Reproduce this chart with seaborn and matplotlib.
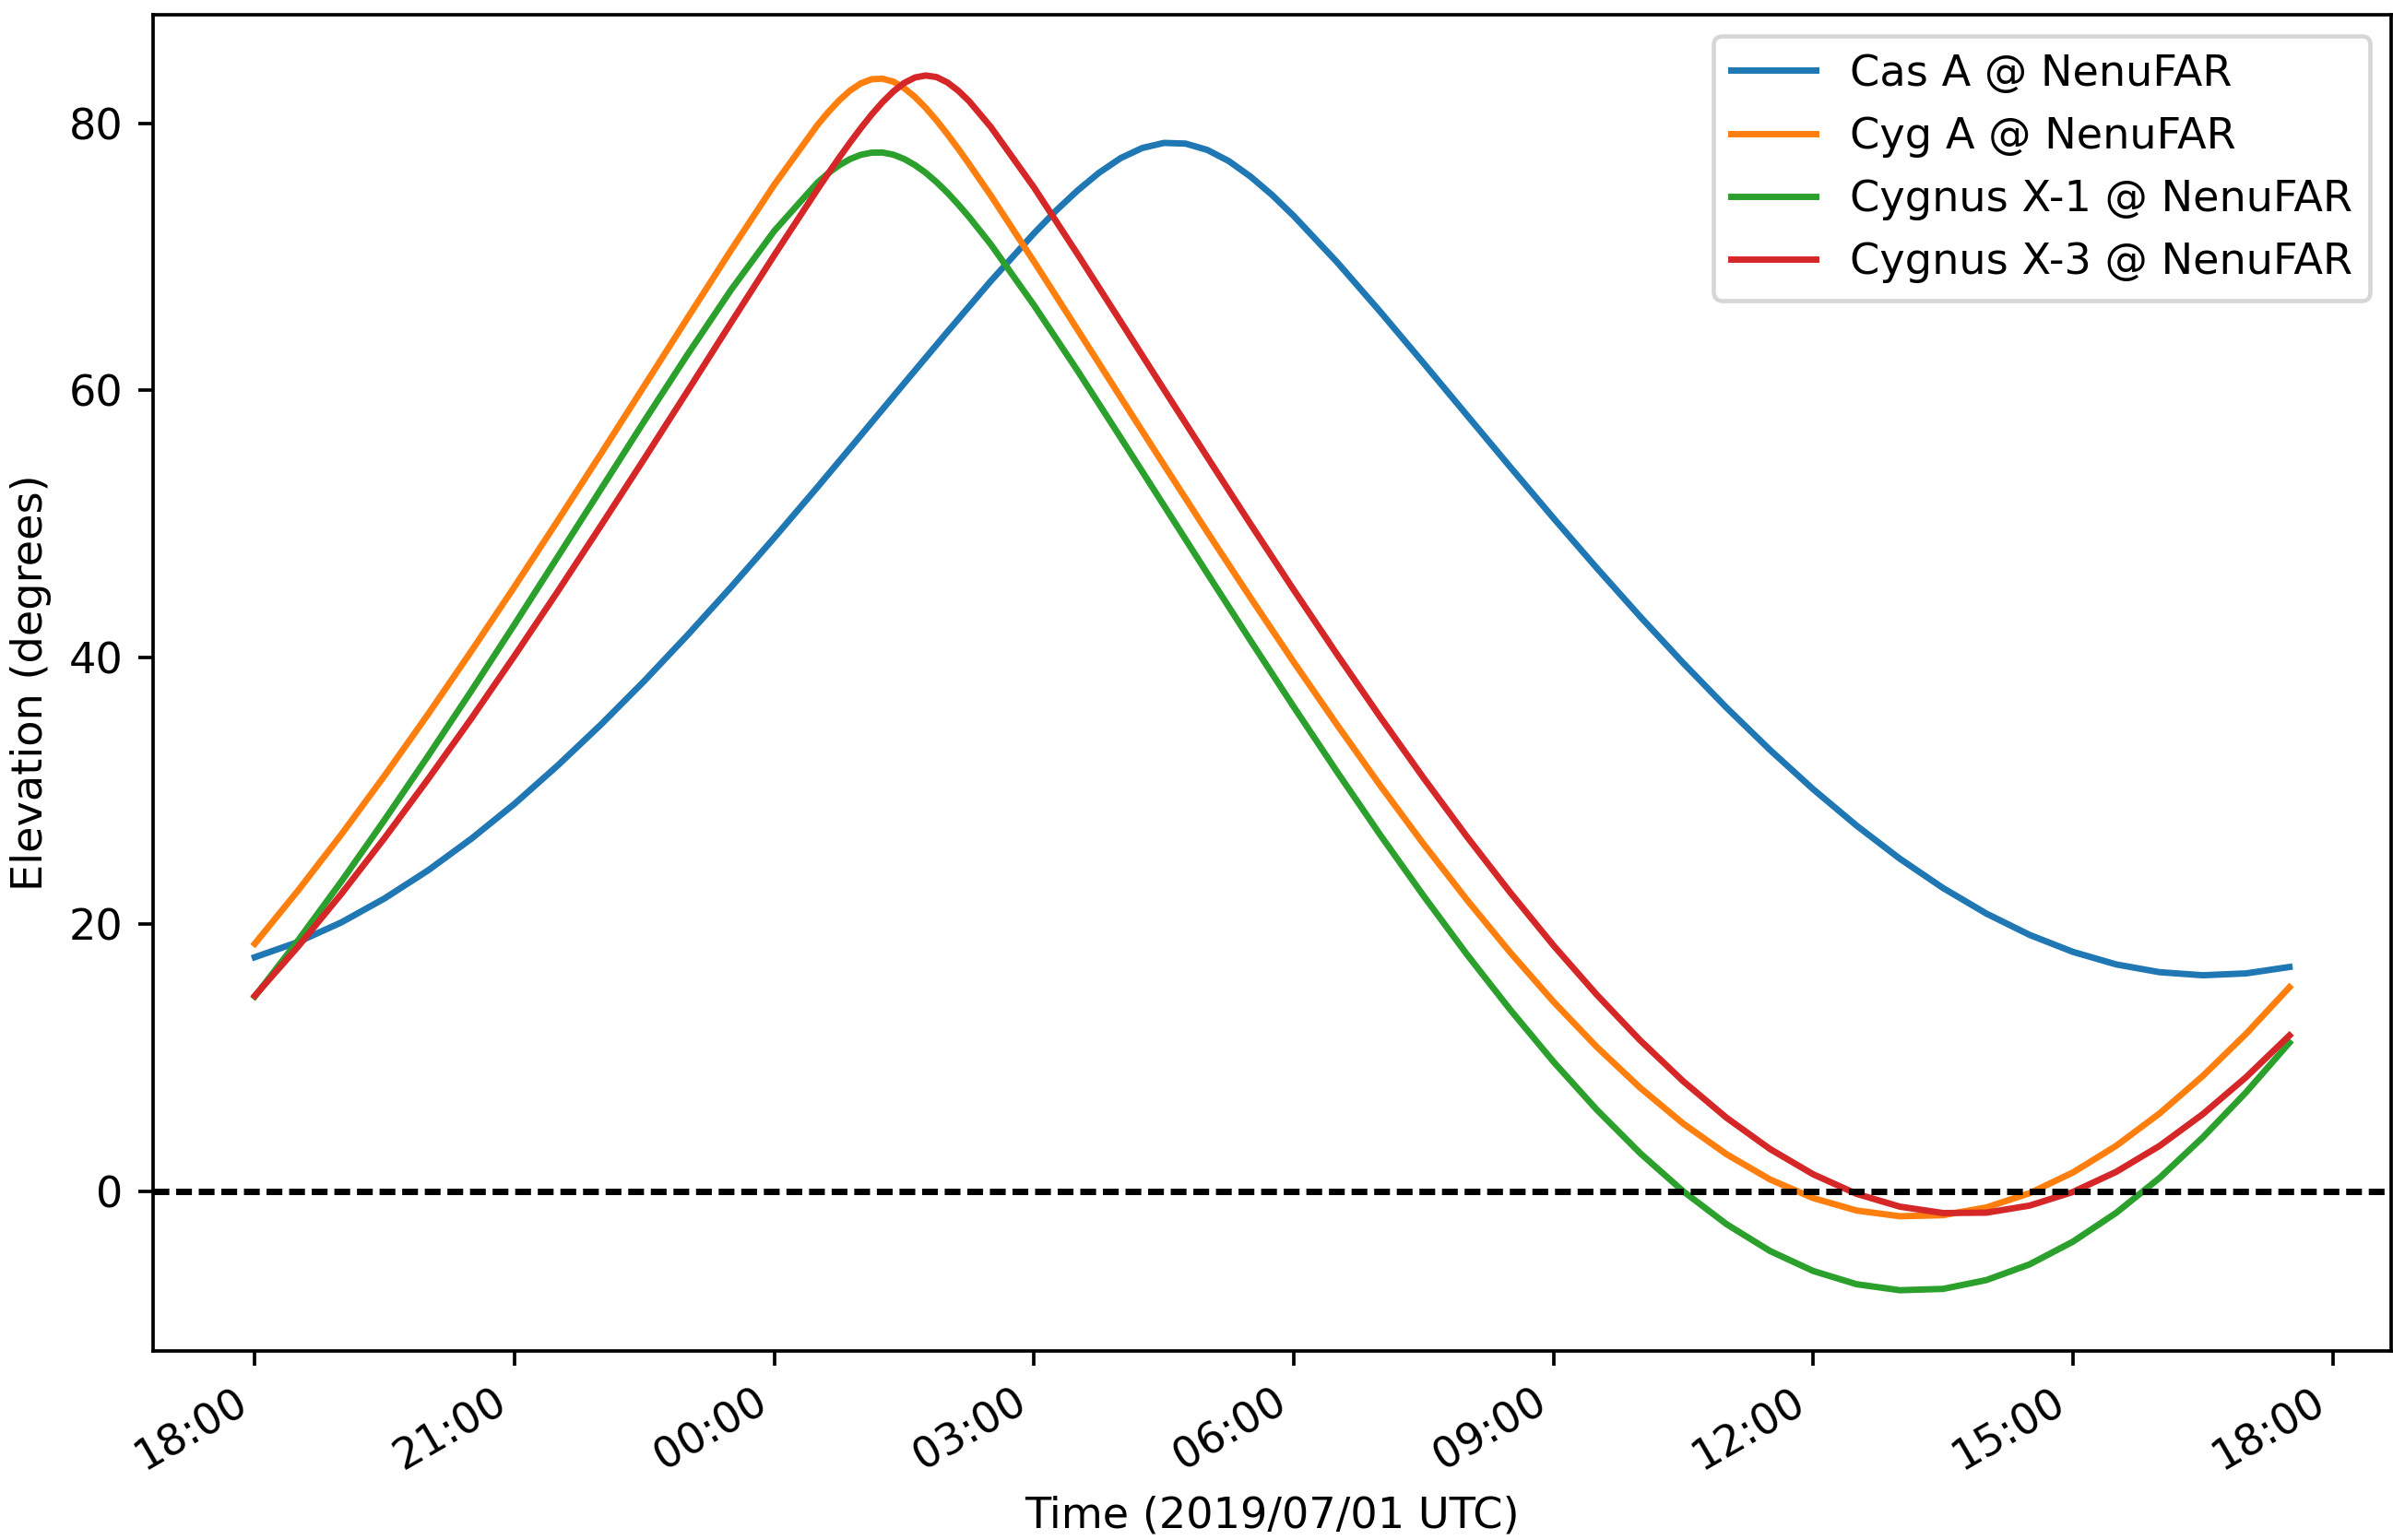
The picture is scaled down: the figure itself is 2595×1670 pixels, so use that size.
import matplotlib
matplotlib.use("Agg")
import matplotlib.pyplot as plt
import matplotlib.dates as mdates
import pandas as pd
import seaborn as sns

# Hours since 2019-06-30 18:00 UTC (denser sampling around the culminations)
hours_cas = [0.0, 0.5, 1.0, 1.5, 2.0, 2.5, 3.0, 3.5, 4.0, 4.5, 5.0, 5.5, 6.0,
             6.5, 7.0, 7.5, 8.0, 8.5, 9.0,
             9.25, 9.5, 9.75, 10.0, 10.25, 10.5, 10.75, 11.0, 11.25, 11.5,
             11.75, 12.0,
             12.5, 13.0, 13.5, 14.0, 14.5, 15.0, 15.5, 16.0, 16.5, 17.0, 17.5,
             18.0, 18.5, 19.0, 19.5, 20.0, 20.5, 21.0, 21.5, 22.0, 22.5, 23.0,
             23.5]

hours_cyg = [0.0, 0.5, 1.0, 1.5, 2.0, 2.5, 3.0, 3.5, 4.0, 4.5, 5.0, 5.5, 6.0,
             6.5, 6.625, 6.75, 6.875, 7.0, 7.125, 7.25, 7.375, 7.5, 7.625,
             7.75, 7.875, 8.0, 8.125, 8.25,
             8.5, 9.0, 9.5, 10.0, 10.5, 11.0, 11.5, 12.0, 12.5, 13.0, 13.5,
             14.0, 14.5, 15.0, 15.5, 16.0, 16.5, 17.0, 17.5, 18.0, 18.5, 19.0,
             19.5, 20.0, 20.5, 21.0, 21.5, 22.0, 22.5, 23.0, 23.5]

cas_a = [17.54, 18.68, 20.15, 21.95, 24.04, 26.41, 29.03, 31.91, 34.98, 38.24,
         41.68, 45.26, 48.96, 52.76, 56.63, 60.52, 64.38, 68.18, 71.76,
         73.43, 74.95, 76.29, 77.39, 78.15, 78.53, 78.48, 78.01, 77.17, 76.01,
         74.63, 73.06,
         69.60, 65.88, 62.03, 58.14, 54.26, 50.43, 46.69, 43.06, 39.56, 36.22,
         33.07, 30.12, 27.40, 24.92, 22.72, 20.81, 19.21, 17.94, 17.00, 16.42,
         16.19, 16.33, 16.81]

cyg_a = [18.55, 22.54, 26.74, 31.15, 35.73, 40.46, 45.30, 50.25, 55.27, 60.35,
         65.44, 70.49, 75.40,
         79.88, 80.85, 81.72, 82.45, 82.99, 83.30, 83.34, 83.12, 82.64, 81.97,
         81.15, 80.21, 79.18, 78.09, 76.95,
         74.60, 69.64, 64.57, 59.48, 54.42, 49.40, 44.47, 39.64, 34.95, 30.39,
         26.01, 21.84, 17.90, 14.21, 10.82, 7.77, 5.07, 2.78, 0.90, -0.50,
         -1.43, -1.86, -1.78, -1.20, -0.13, 1.42, 3.42, 5.84, 8.65, 11.81,
         15.29]

cyg_x1 = [14.60, 18.80, 23.22, 27.84, 32.60, 37.48, 42.47, 47.54, 52.62,
          57.71, 62.70, 67.52, 71.94,
          75.57, 76.27, 76.86, 77.32, 77.64, 77.80, 77.81, 77.65, 77.33, 76.87,
          76.29, 75.59, 74.80, 73.92, 72.98,
          70.94, 66.37, 61.50, 56.46, 51.38, 46.30, 41.26, 36.29, 31.43, 26.69,
          22.13, 17.75, 13.61, 9.71, 6.12, 2.87, 0.00, -2.46, -4.46, -5.96,
          -6.95, -7.40, -7.30, -6.64, -5.46, -3.76, -1.60, 1.01, 4.05, 7.43,
          11.14]

cyg_x3 = [14.65, 18.34, 22.29, 26.48, 30.87, 35.41, 40.12, 44.95, 49.89,
          54.89, 59.96, 65.06, 70.12,
          75.06, 76.26, 77.43, 78.56, 79.64, 80.66, 81.58, 82.38, 83.02, 83.43,
          83.58, 83.46, 83.06, 82.44, 81.66,
          79.73, 75.19, 70.23, 65.16, 60.07, 55.01, 49.99, 45.05, 40.22, 35.52,
          30.96, 26.57, 22.39, 18.42, 14.73, 11.32, 8.24, 5.51, 3.18, 1.28,
          -0.18, -1.14, -1.62, -1.59, -1.06, -0.04, 1.47, 3.41, 5.79, 8.56,
          11.68]

names = ["Cas A @ NenuFAR", "Cyg A @ NenuFAR",
         "Cygnus X-1 @ NenuFAR", "Cygnus X-3 @ NenuFAR"]
series = [(hours_cas, cas_a), (hours_cyg, cyg_a),
          (hours_cyg, cyg_x1), (hours_cyg, cyg_x3)]

start = pd.Timestamp("2019-06-30 18:00")

DPI = 333
W, H = 2595, 1670
fig = plt.figure(figsize=(W / DPI, H / DPI), dpi=DPI)
ax = fig.add_axes([166 / W, 1 - 1465 / H, (2593 - 166) / W, (1465 - 16) / H])

for name, (hrs, vals) in zip(names, series):
    times = start + pd.to_timedelta(hrs, unit="h")
    sns.lineplot(x=times, y=vals, ax=ax, label=name, linewidth=1.5)

ax.axhline(0, color="k", linewidth=1.5, linestyle=(0, (3.7 / 1.5, 1.6 / 1.5)))

ax.xaxis.set_major_locator(mdates.HourLocator(byhour=range(0, 24, 3)))
ax.xaxis.set_major_formatter(mdates.DateFormatter("%H:%M"))
for lab in ax.get_xticklabels():
    lab.set_rotation(30)
    lab.set_ha("right")

ax.set_xlabel("Time (2019/07/01 UTC)")
ax.set_ylabel("Elevation (degrees)")
ax.legend(loc="upper right")

fig.savefig("out.png", dpi=DPI)
